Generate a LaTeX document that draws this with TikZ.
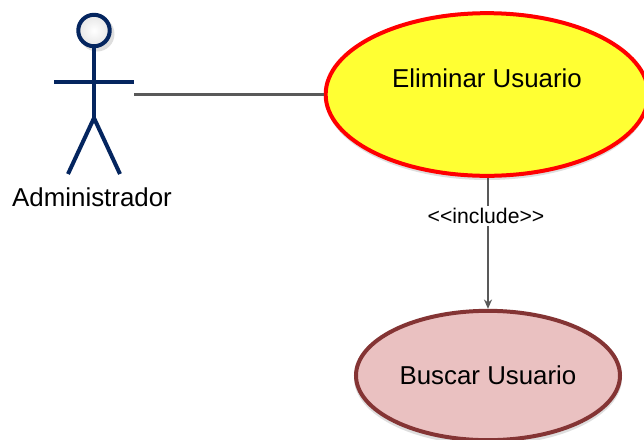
\documentclass[tikz,border=0pt]{standalone}
\usepackage{fontspec}
\setmainfont{Liberation Sans}
\usetikzlibrary{shapes.geometric,arrows.meta,calc}
\definecolor{actor}{HTML}{04255F}
\definecolor{yfill}{HTML}{FFFF33}
\definecolor{pfill}{HTML}{EAC1C1}
\definecolor{pline}{HTML}{843434}
\tikzset{
 x=0.75pt,y=-0.75pt,
 uc/.style={ellipse,draw,line width=3pt,inner sep=0pt,font=\fontsize{19.4}{22}\selectfont},
 act/.style={draw=actor,line width=3pt},
 conn/.style={draw=black!65,line width=1.6pt},
 shad/.style={fill=black!13}
}
\begin{document}
\begin{tikzpicture}
\useasboundingbox (0,0) rectangle (644,440);
\fill[white] (0,0) rectangle (644,440);
\fill[shad] (97,34) circle (17.5*0.75pt);
\fill[shad] (487,97) ellipse [x radius=162,y radius=83];
\fill[shad] (488,378) ellipse [x radius=134,y radius=67];
\node[circle,draw=actor,line width=3pt,minimum size=23.6pt,inner sep=0pt,
  inner color=white,outer color=black!10] (head) at (94,30.5) {};
\coordinate (hip) at (94,118);
\coordinate (la) at (54,82);
\coordinate (ra) at (134,82);
\coordinate (lf) at (68,174);
\coordinate (rf) at (120,174);
\coordinate (actend) at (134,94.5);
\draw[act] (head.south) -- (hip);
\draw[act] (la) -- (ra);
\draw[act,line join=miter] (lf) -- (hip) -- (rf);
\node[font=\fontsize{19.4}{22}\selectfont] (admin) at (92,197) {Administrador};
\node[uc,draw=red,fill=yfill,minimum width=242pt,minimum height=122pt] (e) at (487,94.5) {};
\node[font=\fontsize{19.4}{22}\selectfont] (etxt) at (487,78) {Eliminar Usuario};
\node[uc,draw=pline,fill=pfill,minimum width=198pt,minimum height=97pt] (b) at (488,375.5) {Buscar Usuario};
\draw[conn] (actend) -- (e.west);
\draw[conn,-{Stealth[length=7pt,width=6pt]}] (b.north |- e.south) -- (b.north);
\node[fill=white,inner sep=1.5pt,text=black,font=\fontsize{15.9}{18}\selectfont] (inc) at (486,216) {<{}<include>{}>};
\end{tikzpicture}
\end{document}
